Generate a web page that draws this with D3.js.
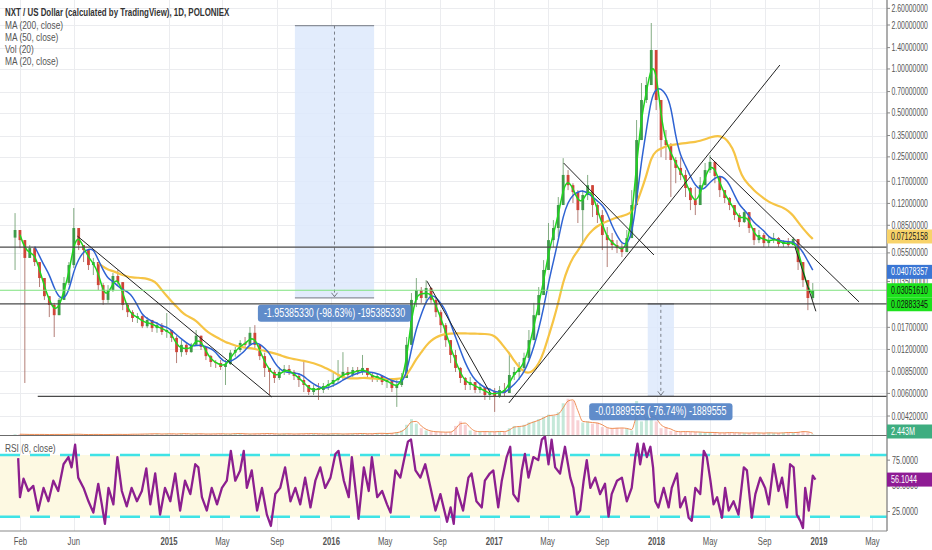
<!DOCTYPE html>
<html><head><meta charset="utf-8">
<script src="https://cdn.jsdelivr.net/npm/d3@7"></script>
<style>body{margin:0;background:#fff;}svg{display:block;font-family:"Liberation Sans",Arial,sans-serif;}</style>
</head><body><svg id="c" width="932" height="550"></svg>
<script>
// ---------------- DATA ----------------
const candleStart = "2014-01-20";
const candleStepDays = 11;
const firstOpen = 0.0700;
const closes = [0.0789,0.0673,0.0508,0.0593,0.0476,0.0370,0.0278,0.0242,0.0206,0.0262,
0.0342,0.0454,0.0814,0.0622,0.0575,0.0454,0.0476,0.0331,0.0262,0.0306,
0.0382,0.0347,0.0242,0.0216,0.0197,0.0203,0.0173,0.0191,0.0168,0.0176,
0.0158,0.0163,0.0144,0.0115,0.0129,0.0115,0.0129,0.0149,0.0125,0.0108,
0.00984,0.00968,0.00910,0.00953,0.0114,0.0119,0.0133,0.0129,0.0156,0.0129,
0.0108,0.00896,0.00841,0.00765,0.00841,0.00882,0.00841,0.00789,0.00741,0.00685,
0.00613,0.00653,0.00633,0.00674,0.00696,0.00741,0.00765,0.00841,0.00802,0.00868,
0.00841,0.00896,0.00802,0.00765,0.00789,0.00718,0.00741,0.00653,0.00685,0.00765,
0.0129,0.0262,0.0306,0.0270,0.0316,0.0262,0.0216,0.0176,0.0139,0.0110,
0.00896,0.00765,0.00685,0.00718,0.00633,0.00664,0.00585,0.00613,0.00576,0.00633,
0.00604,0.00802,0.00841,0.00896,0.0105,0.0139,0.0206,0.0283,0.0420,0.0673,
0.0814,0.117,0.188,0.160,0.1434,0.108,0.137,0.160,0.117,0.0999,
0.0729,0.0673,0.0622,0.0593,0.0557,0.0695,0.117,0.326,0.613,0.776,
1.348,0.613,0.326,0.301,0.238,0.210,0.188,0.153,0.1265,0.117,
0.160,0.203,0.231,0.185,0.148,0.1307,0.117,0.0999,0.0894,0.1046,
0.0814,0.0673,0.0729,0.0642,0.0673,0.0695,0.0632,0.0652,0.0622,0.0684,
0.0476,0.0358,0.0270,0.0305161];
const highs = [0.1030,0.0753,0.0642,0.0622,0.0549,0.0476,0.0370,0.0278,0.0250,0.0270,
0.0376,0.0476,0.1116,0.0789,0.0622,0.0532,0.0508,0.0476,0.0342,0.0331,
0.0401,0.0420,0.0347,0.0250,0.0223,0.0213,0.0206,0.0200,0.0191,0.0185,
0.0182,0.0213,0.0163,0.0149,0.0139,0.0133,0.0133,0.0163,0.0149,0.0125,
0.0110,0.01015,0.01015,0.01015,0.0119,0.0125,0.0139,0.0146,0.0171,0.0176,
0.0129,0.0114,0.00896,0.00868,0.00910,0.00939,0.00939,0.00868,0.00828,0.01015,
0.00685,0.00685,0.00707,0.00707,0.00741,0.00828,0.01015,0.0115,0.00910,0.00910,
0.00910,0.0110,0.00896,0.00828,0.00828,0.00802,0.00765,0.00741,0.00741,0.00828,
0.0146,0.0292,0.0370,0.0321,0.0358,0.0321,0.0274,0.0223,0.0182,0.0133,
0.0119,0.00910,0.00777,0.00777,0.00707,0.00707,0.00653,0.00653,0.00653,0.00674,
0.00707,0.0114,0.00910,0.00984,0.0114,0.0163,0.0250,0.0321,0.0491,0.0881,
0.0923,0.1327,0.245,0.203,0.165,0.148,0.148,0.188,0.160,0.1207,
0.108,0.0827,0.0753,0.0673,0.0642,0.0789,0.148,0.447,0.801,0.881,
2.064,1.348,0.613,0.382,0.311,0.249,0.249,0.203,0.155,0.155,
0.182,0.227,0.257,0.231,0.185,0.148,0.1327,0.117,0.1030,0.1099,
0.1046,0.0814,0.0789,0.0753,0.0706,0.0753,0.0706,0.0673,0.0695,0.0706,
0.0684,0.0476,0.0358,0.0342];
const lows = [0.0420,0.0593,0.00707,0.0508,0.0447,0.0321,0.0262,0.0200,0.0146,0.0216,
0.0283,0.0331,0.0433,0.0575,0.0476,0.0420,0.0388,0.0306,0.0242,0.0250,
0.0297,0.0331,0.0223,0.0200,0.0185,0.0182,0.0168,0.0168,0.0158,0.0156,
0.0151,0.0144,0.0135,0.00968,0.0107,0.0110,0.0114,0.0127,0.0119,0.01015,
0.00910,0.00896,0.00868,0.00685,0.00939,0.0107,0.0115,0.0125,0.0129,0.0119,
0.01015,0.00777,0.00585,0.00707,0.00741,0.00802,0.00802,0.00741,0.00664,0.00613,
0.00585,0.00585,0.00541,0.00604,0.00633,0.00664,0.00707,0.00741,0.00765,0.00777,
0.00802,0.00802,0.00765,0.00718,0.00718,0.00685,0.00653,0.00613,0.00485,0.00664,
0.00765,0.0129,0.0234,0.0250,0.0250,0.0250,0.0200,0.0156,0.0125,0.00968,
0.00841,0.00707,0.00633,0.00633,0.00604,0.00604,0.00541,0.00541,0.00448,0.00558,
0.00567,0.00604,0.00741,0.00741,0.00868,0.01015,0.0139,0.0206,0.0283,0.0420,
0.0603,0.0706,0.117,0.148,0.1207,0.0881,0.0642,0.1265,0.0968,0.0881,
0.0575,0.0440,0.0575,0.0549,0.0515,0.0557,0.0695,0.117,0.326,0.585,
0.776,0.523,0.249,0.238,0.1327,0.165,0.173,0.1327,0.108,0.0999,
0.117,0.160,0.194,0.165,0.1327,0.1207,0.108,0.0923,0.0827,0.0881,
0.0753,0.0622,0.0642,0.0603,0.0603,0.0642,0.0603,0.0603,0.0603,0.0622,
0.0420,0.0321,0.0223,0.0262];
// volume, millions
const volumes = [3,4,2,3,2,3,2,2,3,2, 2,3,4,3,2,2,3,2,2,2,
3,3,2,3,4,3,5,4,6,5, 4,6,5,4,7,5,4,6,5,4,
5,5,6,4,5,7,6,5,4,6, 5,7,6,5,4,6,5,4,6,5,
7,5,6,4,5,6,5,4,6,5, 7,6,5,6,8,7,6,9,12,20,
45,70,50,30,20,15,14,13,12,14, 40,60,45,20,15,14,16,13,15,16,
14,30,40,35,45,55,60,70,80,90, 85,100,140,160,150,65,55,60,50,55,
35,30,28,32,30,28,20,150,60,80, 85,60,30,35,18,15,14,16,13,14,
12,11,12,10,9,10,11,9,10,8, 9,10,8,9,10,8,9,10,12,9,
14,16,12,2.443];
const maPeriods = {ma20: 20, ma50: 50, ma200: 200, vol: 20};
// RSI (8, close): day offset from 2014-01-01 and value
const rsiDays = [26,30,38,49,60,71,83,94,105,116,128,139,146,154,161,173,184,195,206,214,
221,229,240,249,259,270,281,293,304,314,323,334,345,356,368,379,390,401,413,424,
431,439,450,461,473,484,495,504,514,525,533,540,551,563,574,585,594,604,615,626,
638,649,660,671,683,694,705,716,728,739,746,758,769,776,788,791,803,814,821,833,
844,855,863,874,885,896,902,909,919,930,941,953,964,975,990,998,1005,1011,
1026,1038,1045,1056,1068,1075,1086,1094,1105,1113,1124,1132,1139,1150,1158,1165,1173,1184,1195,1203,
1210,1218,1225,1233,1244,1255,1267,1274,1282,1289,1297,1304,1312,1323,1334,1345,1353,1360,1372,1383,
1394,1405,1413,1418,1424,1432,1439,1447,1453,1458,1465,1477,1488,1495,1507,1514,1525,1533,1540,1548,
1559,1567,1574,1582,1589,1597,1608,1615,1623,1634,1645,1657,1664,1675,1683,1694,1705,1713,1724,1735,
1743,1754,1761,1769,1776,1784,1790,1795,1803,1812,1818];
const rsiValues = [77,39,57,45,50,26,48,35,55,45,71,78,68,90,58,48,35,24,52,32,
13,48,32,78,45,30,48,35,45,67,32,62,22,48,35,62,26,55,42,71,
68,39,26,48,32,48,55,84,55,65,84,48,65,26,48,22,11,42,48,68,
35,48,32,58,29,55,68,48,58,81,84,55,39,78,32,18,68,45,78,39,
45,32,24,65,58,81,93,95,65,58,71,48,26,42,15,29,13,48,
26,58,62,35,29,55,62,65,29,55,78,88,42,35,65,81,58,78,75,95,
98,71,95,68,62,88,58,48,22,26,55,75,48,58,42,52,20,42,55,58,
35,48,78,91,71,91,78,88,68,35,29,48,29,48,62,29,39,19,16,48,
42,84,78,55,32,39,19,48,26,35,22,68,65,19,42,58,48,32,71,45,
58,29,71,68,22,16,9,48,26,60,56.1044];
const priceTicks = [2.6,2.0,1.4,1.0,0.7,0.5,0.35,0.25,0.17,0.12,0.085,0.055,0.035,0.017,0.012,0.0085,0.006,0.0042];
const rsiTicks = [75,50,25];
const rsiBands = [80,20];
const dateTicks = [["2014-02-01","Feb"],["2014-06-01","Jun"],["2015-01-01","2015"],["2015-05-01","May"],["2015-09-01","Sep"],
["2016-01-01","2016"],["2016-05-01","May"],["2016-09-01","Sep"],["2017-01-01","2017"],["2017-05-01","May"],["2017-09-01","Sep"],
["2018-01-01","2018"],["2018-05-01","May"],["2018-09-01","Sep"],["2019-01-01","2019"],["2019-05-01","May"]];
const levelLines = [["2013-12-17",0.0603],["2013-12-17",0.02462],["2014-03-12",0.00573]];
const trendLines = [["2014-06-09",0.0717,"2015-08-20",0.00567],["2016-08-03",0.0352,"2016-12-22",0.00613],
["2017-06-06",0.227,"2017-12-26",0.0532],["2017-02-03",0.00516,"2018-10-05",1.064],
["2018-05-01",0.249,"2019-04-01",0.0254],["2018-11-08",0.0603,"2018-12-25",0.0219]];
const measures = [["2015-10-11","2016-04-06",1.981,0.0271,"-1.95385330 (-98.63%) -195385330"],
["2017-12-12","2018-02-09",0.02462,0.00573,"-0.01889555 (-76.74%) -1889555"]];
const lastPrice = 0.0305161;
const priceTags = [[0.07125158,"0.07125158","#f8d36a","#222"],[0.04078357,"0.04078357","#3a76d4","#fff"],
[0.0305161,"0.03051610","#1de21d","#111"],[0.02883345,"0.02883345","#1de21d","#111"]];
const volTag = [2.443,"2.443M","#3ead80","#fff"];
const rsiTag = [56.1044,"56.1044","#8e1b94","#fff"];
const legend = ["NXT / US Dollar (calculated by TradingView), 1D, POLONIEX","MA (200, close)","MA (50, close)","Vol (20)","MA (20, close)"];
const rsiLegend = "RSI (8, close)";

// ---------------- CHART ----------------
const W = 887, MAINB = 435.5, RSIT = 436, RSIB = 531;
const DAY = 864e5;
const pd = d3.utcParse("%Y-%m-%d");
const svg = d3.select("#c");
const x = d3.scaleUtc().domain([Date.UTC(2014,0,1), Date.UTC(2019,0,1)]).range([6.6, 819]);
const y = d3.scaleLog().domain([0.006, 2]).range([393.4, 25]);
const yv = d3.scaleLinear().domain([0, 150]).range([435, 401]);
const yr = d3.scaleLinear().domain([20, 80]).range([516.7, 455]);

function squeeze(sel, r){ sel.each(function(){ const L=this.getComputedTextLength(); if(L>0){ this.setAttribute("textLength", (L*r).toFixed(1)); this.setAttribute("lengthAdjust","spacingAndGlyphs"); } }); }
// narrow text drawn by horizontal scaling so that it fits a given width
function narrowText(parent, px, py, txt, width, size, fill){
  const g = parent.append("g");
  const t = g.append("text").attr("x",0).attr("y",0).attr("font-size",size).attr("fill",fill).text(txt);
  const L = t.node().getComputedTextLength();
  g.attr("transform",`translate(${px},${py}) scale(${(width/L).toFixed(4)},1)`);
  return g;
}

const defs = svg.append("defs");
defs.append("clipPath").attr("id","cm").append("rect").attr("x",0).attr("y",0).attr("width",W).attr("height",MAINB);
defs.append("clipPath").attr("id","cr").append("rect").attr("x",0).attr("y",RSIT).attr("width",W).attr("height",RSIB-RSIT);

// grid
const grid = svg.append("g").attr("stroke","#ebecef").attr("stroke-width",1);
dateTicks.forEach(d=>{ const xx=Math.round(x(pd(d[0])))+0.5; grid.append("line").attr("x1",xx).attr("x2",xx).attr("y1",0).attr("y2",RSIB); });
priceTicks.forEach(v=>{ const yy=Math.round(y(v))+0.5; grid.append("line").attr("x1",0).attr("x2",W).attr("y1",yy).attr("y2",yy); });

// candles data
const t0 = pd(candleStart).getTime();
const candles = closes.map((c,i)=>{ const o = i? closes[i-1] : firstOpen;
  return {date:new Date(t0 + i*candleStepDays*DAY), o, c, h:Math.max(highs[i],o,c), l:Math.min(lows[i],o,c), v:volumes[i]}; });
function sma(arr, n){ return arr.map((_,i)=> i<n-1 ? null : d3.mean(arr.slice(i-n+1,i+1))); }
const win = p => Math.max(1, Math.round(p/candleStepDays));

const main = svg.append("g").attr("clip-path","url(#cm)");

// measure boxes (fill)
measures.forEach(m=>{
  const x0=x(pd(m[0])), x1=x(pd(m[1])), y0=y(m[2]), y1=y(m[3]);
  main.append("rect").attr("x",x0).attr("y",y0).attr("width",x1-x0).attr("height",y1-y0).attr("fill","#dde9fb").attr("opacity",0.85);
  main.append("line").attr("x1",x0).attr("x2",x1).attr("y1",y0).attr("y2",y0).attr("stroke","#8a8f99").attr("stroke-width",1.2);
  main.append("line").attr("x1",x0).attr("x2",x1).attr("y1",y1).attr("y2",y1).attr("stroke","#8a8f99").attr("stroke-width",1.2);
  const xc=(x0+x1)/2;
  main.append("line").attr("x1",xc).attr("x2",xc).attr("y1",y0).attr("y2",y1-1).attr("stroke","#7a7f88").attr("stroke-dasharray","3,3");
  main.append("path").attr("d",`M${xc-3},${y1-5}L${xc},${y1-1}L${xc+3},${y1-5}`).attr("fill","none").attr("stroke","#7a7f88");
});

// volume
const bw = 3;
main.append("g").selectAll("rect").data(candles).join("rect")
  .attr("x",d=>x(d.date)-bw/2).attr("width",bw)
  .attr("y",d=>yv(d.v)).attr("height",d=>Math.max(0.5, yv(0)-yv(d.v)))
  .attr("fill",d=>d.c>=d.o?"#9fd9c0":"#f3b3b8").attr("opacity",0.6);
const volMA = sma(volumes, win(maPeriods.vol));
main.append("path").datum(candles.map((d,i)=>[x(d.date), volMA[i]]).filter(p=>p[1]!=null))
  .attr("d", d3.line().x(p=>p[0]).y(p=>yv(p[1])).curve(d3.curveMonotoneX))
  .attr("fill","none").attr("stroke","#ef8e55").attr("stroke-width",1);

// candles
const cg = main.append("g");
cg.selectAll("line").data(candles).join("line")
  .attr("x1",d=>x(d.date)).attr("x2",d=>x(d.date)).attr("y1",d=>y(d.h)).attr("y2",d=>y(d.l))
  .attr("stroke",d=>d.c>=d.o?"#6f9f6f":"#a86a62").attr("stroke-width",1).attr("opacity",0.85);
cg.selectAll("rect").data(candles).join("rect")
  .attr("x",d=>x(d.date)-1.4).attr("width",2.8)
  .attr("y",d=>y(Math.max(d.o,d.c))).attr("height",d=>Math.max(1, Math.abs(y(d.o)-y(d.c))))
  .attr("fill",d=>d.c>=d.o?"#3f9b4a":"#cf4538");

// moving averages
function maLine(n, color, w){
  const m = sma(closes, n);
  main.append("path").datum(candles.map((d,i)=>[x(d.date), m[i]]).filter(p=>p[1]!=null))
    .attr("d", d3.line().x(p=>p[0]).y(p=>y(p[1])).curve(d3.curveBasis))
    .attr("fill","none").attr("stroke",color).attr("stroke-width",w);
}
maLine(win(maPeriods.ma200), "#f6c445", 2.2);
maLine(win(maPeriods.ma50), "#2f63d3", 1.5);
maLine(win(maPeriods.ma20), "#1fd61f", 1.5);

// horizontal levels + trend lines
levelLines.forEach(l=>{ const yy=y(l[1]); main.append("line").attr("x1",x(pd(l[0]))).attr("x2",W).attr("y1",yy).attr("y2",yy).attr("stroke","#4a4a4a").attr("stroke-width",1.3); });
trendLines.forEach(t=>{ main.append("line").attr("x1",x(pd(t[0]))).attr("y1",y(t[1])).attr("x2",x(pd(t[2]))).attr("y2",y(t[3])).attr("stroke","#222").attr("stroke-width",1); });
// last price line
main.append("line").attr("x1",0).attr("x2",W).attr("y1",y(lastPrice)).attr("y2",y(lastPrice)).attr("stroke","#7ee27e").attr("stroke-width",1);

// measure labels
measures.forEach(m=>{
  const xc=(x(pd(m[0]))+x(pd(m[1])))/2, yb=y(m[3]);
  const g=svg.append("g");
  const rect=g.append("rect");
  const t=g.append("text").attr("x",xc).attr("y",yb+19).attr("text-anchor","middle").attr("font-size",12).attr("fill","#fff").text(m[4]);
  const L=t.node().getComputedTextLength()*0.74;
  t.attr("textLength",L.toFixed(1)).attr("lengthAdjust","spacingAndGlyphs");
  rect.attr("x",xc-L/2-6).attr("y",yb+7).attr("width",L+12).attr("height",17).attr("rx",3).attr("fill","#5282c6").attr("opacity",0.92);
});

// RSI pane
svg.append("rect").attr("x",0).attr("y",yr(80)).attr("width",W).attr("height",yr(20)-yr(80)).attr("fill","#fdf9e2");
const rg = svg.append("g").attr("clip-path","url(#cr)");
rsiBands.forEach(b=>rg.append("line").attr("x1",0).attr("x2",W).attr("y1",yr(b)).attr("y2",yr(b)).attr("stroke","#3fe3e6").attr("stroke-width",2.6).attr("stroke-dasharray","20,10"));
const rsiT0 = Date.UTC(2014,0,1);
rg.append("path").datum(rsiDays.map((d,i)=>[new Date(rsiT0+d*DAY), rsiValues[i]]))
  .attr("d", d3.line().x(p=>x(p[0])).y(p=>yr(p[1])))
  .attr("fill","none").attr("stroke","#8c1f8f").attr("stroke-width",2.3).attr("stroke-linejoin","round");

// separators & axis lines
svg.append("line").attr("x1",0).attr("x2",W).attr("y1",MAINB).attr("y2",MAINB).attr("stroke","#6b6b6b").attr("stroke-width",1.2);
svg.append("line").attr("x1",0).attr("x2",W).attr("y1",RSIB).attr("y2",RSIB).attr("stroke","#8a8a8a").attr("stroke-width",1.2);
svg.append("line").attr("x1",W).attr("x2",W).attr("y1",0).attr("y2",RSIB).attr("stroke","#8a8a8a").attr("stroke-width",1.4);

// price axis
const ax = svg.append("g");
priceTicks.forEach(v=>{ const yy=y(v);
  ax.append("line").attr("x1",W).attr("x2",W+3).attr("y1",yy).attr("y2",yy).attr("stroke","#888");
  narrowText(ax, W+4.5, yy+3.5, d3.format(".8f")(v), 36.5, 10, "#555"); });
rsiTicks.forEach(v=>{ const yy=yr(v);
  ax.append("line").attr("x1",W).attr("x2",W+3).attr("y1",yy).attr("y2",yy).attr("stroke","#888");
  narrowText(ax, W+5, yy+3.5, d3.format(".4f")(v), 26, 10, "#555"); });

// date axis
const dx = svg.append("g").attr("font-size",11).attr("fill","#555").attr("text-anchor","middle");
dateTicks.forEach(d=>{ const t=dx.append("text").attr("x",x(pd(d[0]))).attr("y",545).attr("font-weight",/^\d/.test(d[1])?"bold":"normal").text(d[1]); squeeze(t,0.7); });

// tags
function tag(yy, txt, bg, fg, len){
  const g=svg.append("g");
  g.append("rect").attr("x",W).attr("y",yy-7).attr("width",932-W).attr("height",14).attr("fill",bg);
  narrowText(g, W+4, yy+3.6, txt, len, 10, fg);
}
let prev = -100;
priceTags.map(t=>({t, yy:y(t[0])})).sort((a,b)=>a.yy-b.yy).forEach(o=>{ let yy=o.yy; if(yy<prev+14) yy=prev+14; prev=yy; tag(yy,o.t[1],o.t[2],o.t[3],37); });
tag(Math.min(yv(volTag[0]), MAINB-4), volTag[1], volTag[2], volTag[3], 24);
tag(yr(rsiTag[0]), rsiTag[1], rsiTag[2], rsiTag[3], 26);

// legends
const lg = svg.append("g").attr("font-size",11).attr("fill","#444");
const ly = [16,28.5,40.5,52.5,64.5];
legend.forEach((s,i)=>{ const t=lg.append("text").attr("x",5).attr("y",ly[i]).attr("font-weight",i===0?"bold":"normal").attr("fill",i===0?"#333":"#555").text(s); squeeze(t, i===0?0.72:0.76); });
const rl = lg.append("text").attr("x",5).attr("y",452).attr("fill","#555").text(rsiLegend); squeeze(rl,0.76);
</script></body></html>
